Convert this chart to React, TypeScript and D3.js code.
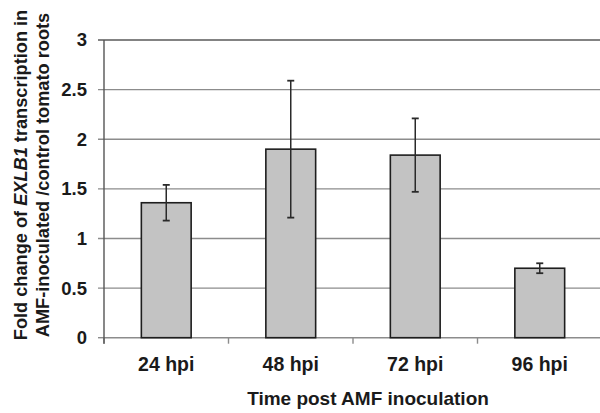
import { useRef, useEffect } from 'react'
import * as d3 from 'd3'

const categories = ['24 hpi', '48 hpi', '72 hpi', '96 hpi']
const foldChange = [1.36, 1.9, 1.84, 0.7]
const errorBars = [0.18, 0.69, 0.37, 0.05]
const yTicks = [0, 0.5, 1, 1.5, 2, 2.5, 3]

const FONT = 'Liberation Sans, Arial, Helvetica, sans-serif'

export default function App() {
  const svgRef = useRef<SVGSVGElement>(null)

  useEffect(() => {
    if (!svgRef.current) return
    const w = 600
    const h = 413
    const margin = { top: 40, right: -2, bottom: 75.3, left: 104 }
    const innerW = w - margin.left - margin.right
    const innerH = h - margin.top - margin.bottom

    const svg = d3.select(svgRef.current)
    svg.selectAll('*').remove()
    svg.attr('width', w).attr('height', h)

    const g = svg.append('g').attr('transform', `translate(${margin.left},${margin.top})`)

    const x = d3.scaleBand().domain(categories).range([0, innerW]).padding(0)
    const y = d3.scaleLinear().domain([0, 3]).range([innerH, 0])
    const barW = x.bandwidth() * 0.4

    // gridlines + y ticks
    g.selectAll('.grid')
      .data(yTicks)
      .join('line')
      .attr('x1', -6)
      .attr('x2', (d) => (d === 0 ? 0 : innerW))
      .attr('y1', (d) => y(d))
      .attr('y2', (d) => y(d))
      .attr('stroke', (d) => (d === 3 ? '#5a5a5a' : '#8c8c8c'))
      .attr('stroke-width', 1.4)

    g.selectAll('.ylab')
      .data(yTicks)
      .join('text')
      .attr('x', -17)
      .attr('y', (d) => y(d))
      .attr('dy', '0.35em')
      .attr('text-anchor', 'end')
      .attr('fill', '#1a1a1a')
      .attr('font-family', FONT)
      .attr('font-weight', 'bold')
      .attr('font-size', '18.5px')
      .text((d) => String(d))

    // x axis line + ticks at band boundaries
    g.append('line')
      .attr('x1', 0)
      .attr('x2', innerW)
      .attr('y1', innerH)
      .attr('y2', innerH)
      .attr('stroke', '#8c8c8c')
      .attr('stroke-width', 1.4)

    const bounds = categories.map((c) => x(c) ?? 0)
    g.selectAll('.xtick')
      .data(bounds)
      .join('line')
      .attr('x1', (d) => d)
      .attr('x2', (d) => d)
      .attr('y1', innerH)
      .attr('y2', innerH + 6)
      .attr('stroke', '#8c8c8c')
      .attr('stroke-width', 1.4)

    // y axis line
    g.append('line')
      .attr('x1', 0)
      .attr('x2', 0)
      .attr('y1', 0)
      .attr('y2', innerH + 6)
      .attr('stroke', '#555')
      .attr('stroke-width', 1.4)

    // bars
    g.selectAll('.bar')
      .data(categories)
      .join('rect')
      .attr('x', (d) => (x(d) ?? 0) + x.bandwidth() / 2 - barW / 2)
      .attr('y', (_, i) => y(foldChange[i]))
      .attr('width', barW)
      .attr('height', (_, i) => innerH - y(foldChange[i]))
      .attr('fill', '#c3c3c3')
      .attr('stroke', '#1e1e1e')
      .attr('stroke-width', 1.6)

    // error bars
    const eb = g.selectAll('.err').data(categories).join('g')
    eb.append('line')
      .attr('x1', (d) => (x(d) ?? 0) + x.bandwidth() / 2)
      .attr('x2', (d) => (x(d) ?? 0) + x.bandwidth() / 2)
      .attr('y1', (_, i) => y(foldChange[i] + errorBars[i]))
      .attr('y2', (_, i) => y(foldChange[i] - errorBars[i]))
      .attr('stroke', '#2a2a2a')
      .attr('stroke-width', 1.5)
    ;[1, -1].forEach((s) => {
      eb.append('line')
        .attr('x1', (d) => (x(d) ?? 0) + x.bandwidth() / 2 - 3.5)
        .attr('x2', (d) => (x(d) ?? 0) + x.bandwidth() / 2 + 3.5)
        .attr('y1', (_, i) => y(foldChange[i] + s * errorBars[i]))
        .attr('y2', (_, i) => y(foldChange[i] + s * errorBars[i]))
        .attr('stroke', '#2a2a2a')
        .attr('stroke-width', 1.8)
    })

    // category labels
    g.selectAll('.xlab')
      .data(categories)
      .join('text')
      .attr('x', (d) => (x(d) ?? 0) + x.bandwidth() / 2)
      .attr('y', innerH + 33)
      .attr('text-anchor', 'middle')
      .attr('fill', '#1a1a1a')
      .attr('font-family', FONT)
      .attr('font-weight', 'bold')
      .attr('font-size', '19.5px')
      .text((d) => d)

    // axis titles
    svg.append('text')
      .attr('x', 368)
      .attr('y', 405)
      .attr('text-anchor', 'middle')
      .attr('fill', '#1a1a1a')
      .attr('font-family', FONT)
      .attr('font-weight', 'bold')
      .attr('font-size', '19px')
      .text('Time post AMF inoculation')

    const yt = svg.append('text')
      .attr('transform', 'translate(27,175) rotate(-90)')
      .attr('text-anchor', 'middle')
      .attr('fill', '#1a1a1a')
      .attr('font-family', FONT)
      .attr('font-weight', 'bold')
      .attr('font-size', '18.2px')
    const l1 = yt.append('tspan').attr('x', 0).attr('y', 0)
    l1.append('tspan').text('Fold change of ')
    l1.append('tspan').attr('font-style', 'italic').text('EXLB1')
    l1.append('tspan').text(' transcription in')
    yt.append('tspan').attr('x', 0).attr('y', 22).text('AMF-inoculated /control tomato roots')

    return () => {
      svg.selectAll('*').remove()
    }
  }, [])

  return (
    <div style={{ position: 'fixed', left: 0, top: 0, width: 600, height: 413, background: '#fff' }}>
      <svg ref={svgRef} style={{ display: 'block' }} />
    </div>
  )
}
